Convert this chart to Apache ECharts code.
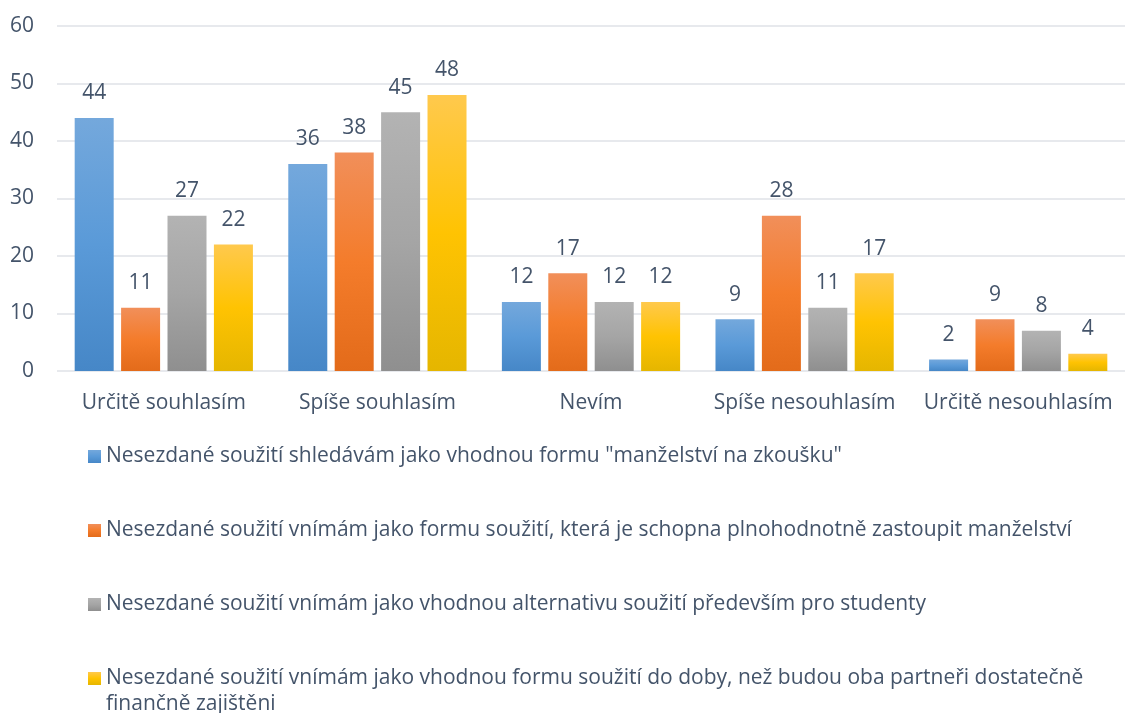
<!DOCTYPE html>
<html>
<head>
<meta charset="utf-8">
<script src="https://cdn.jsdelivr.net/npm/echarts@6/dist/echarts.min.js"></script>
<style>
  html, body { margin: 0; padding: 0; background: #fff; }
  #chart { width: 1125px; height: 713px; }
</style>
</head>
<body>
<div id="chart"></div>
<script>
const categories = ['Určitě souhlasím', 'Spíše souhlasím', 'Nevím', 'Spíše nesouhlasím', 'Určitě nesouhlasím']
const seriesNames = [
  'Nesezdané soužití shledávám jako vhodnou formu "manželství na zkoušku"',
  'Nesezdané soužití vnímám jako formu soužití, která je schopna plnohodnotně zastoupit manželství',
  'Nesezdané soužití vnímám jako vhodnou alternativu soužití především pro studenty',
  'Nesezdané soužití vnímám jako vhodnou formu soužití do doby, než budou oba partneři dostatečně finančně zajištěni'
]
// bar heights as drawn
const trialValues = [44, 36, 12, 9, 2]
const replaceValues = [11, 38, 17, 27, 9]
const studentValues = [27, 45, 12, 11, 7]
const financeValues = [22, 48, 12, 17, 3]
// data labels as printed (some differ from the drawn height)
const trialLabels = [44, 36, 12, 9, 2]
const replaceLabels = [11, 38, 17, 28, 9]
const studentLabels = [27, 45, 12, 11, 8]
const financeLabels = [22, 48, 12, 17, 4]
const yTicks = [0, 10, 20, 30, 40, 50, 60]

const textColor = '#44546a'
const font = 'Open Sans'
const fontSize = 21

// svetly nahore, zakladni uprostred, tmavsi dole (jako v Excelu)
const gradients = [
  ['#74a8dc', '#5a9ad8', '#4687c7'],
  ['#f18f5a', '#f47c2b', '#e36b1a'],
  ['#b3b3b3', '#a5a5a5', '#8f8f8f'],
  ['#ffc94d', '#ffc302', '#e5b600']
]
const values = [trialValues, replaceValues, studentValues, financeValues]
const labels = [trialLabels, replaceLabels, studentLabels, financeLabels]

function gradient(stops) {
  return new echarts.graphic.LinearGradient(0, 0, 0, 1, [
    { offset: 0, color: stops[0] },
    { offset: 0.5, color: stops[1] },
    { offset: 1, color: stops[2] }
  ])
}

const chart = echarts.init(document.getElementById('chart'))

const legendBase = {
  orient: 'vertical',
  left: 88,
  padding: 0,
  itemWidth: 13,
  itemHeight: 13,
  itemGap: 48,
  icon: 'rect',
  selectedMode: false,
  textStyle: {
    color: textColor,
    fontFamily: font,
    fontSize: fontSize,
    lineHeight: 26
  }
}

chart.setOption({
  animation: false,
  grid: {
    left: 57,
    right: 0,
    top: 26,
    height: 345
  },
  legend: [
    Object.assign({}, legendBase, {
      top: 443.5,
      data: seriesNames.slice(0, 3)
    }),
    Object.assign({}, legendBase, {
      // prazdny prvni radek, aby prvni radek textu byl u znacky
      top: 639.5,
      data: [seriesNames[3]],
      formatter: name => '\n' + name.replace(' finančně', '\nfinančně')
    })
  ],
  xAxis: {
    type: 'category',
    data: categories,
    axisLine: { show: false },
    axisTick: { show: false },
    axisLabel: {
      interval: 0,
      color: textColor,
      fontFamily: font,
      fontSize: fontSize,
      margin: 22
    }
  },
  yAxis: {
    type: 'value',
    min: yTicks[0],
    max: yTicks[yTicks.length - 1],
    interval: 10,
    axisLine: { show: false },
    axisTick: { show: false },
    axisLabel: {
      color: textColor,
      fontFamily: font,
      fontSize: fontSize,
      margin: 23
    },
    splitLine: {
      lineStyle: { color: '#dfe2e7', width: 1.5 }
    }
  },
  series: seriesNames.map((name, i) => ({
    name,
    type: 'bar',
    barWidth: 39,
    barGap: '19%',
    data: values[i],
    itemStyle: { color: gradient(gradients[i]) },
    label: {
      show: true,
      position: 'top',
      distance: 14,
      color: textColor,
      fontFamily: font,
      fontSize: fontSize,
      formatter: p => labels[i][p.dataIndex]
    }
  }))
})
</script>
</body>
</html>
